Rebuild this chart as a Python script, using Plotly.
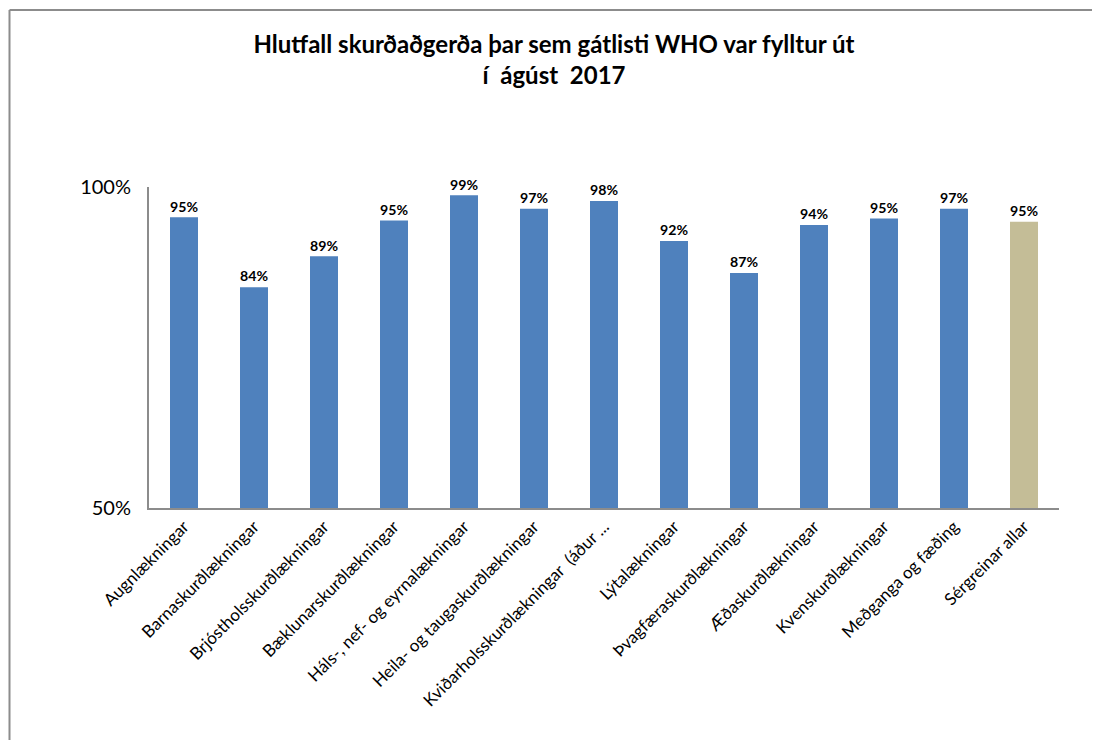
import plotly.graph_objects as go

categories = [
    "Augnlækningar", "Barnaskurðlækningar", "Brjóstholsskurðlækningar",
    "Bæklunarskurðlækningar", "Háls-, nef- og eyrnalækningar",
    "Heila- og taugaskurðlækningar", "Kviðarholsskurðlækningar  (áður ...",
    "Lýtalækningar", "Þvagfæraskurðlækningar", "Æðaskurðlækningar",
    "Kvenskurðlækningar", "Meðganga og fæðing", "Sérgreinar allar",
]
values = [0.953, 0.844, 0.892, 0.948, 0.987, 0.966, 0.978,
          0.916, 0.866, 0.941, 0.951, 0.966, 0.946]
colors = ["#4F81BD"] * 12 + ["#C4BD97"]
y_ticks = [0.5, 1.0]
y_tick_labels = ["50%", "100%"]

FONT = "Lato"
OFF = 8  # page body margin
W, H = 1100 - OFF, 740 - OFF

fig = go.Figure(go.Bar(
    x=categories, y=values,
    marker=dict(color=colors, line=dict(width=0)),
    texttemplate="%{y:.0%}", textposition="outside",
    textfont=dict(family=FONT, size=16, color="#000000", weight="bold"),
    cliponaxis=False,
))

L, T = 149 - OFF, 187 - OFF
R = W - (1059 - OFF)
B = H - (508 - OFF)
pw, ph = W - L - R, H - T - B

def px(x):
    return (x - OFF - L) / pw

def py(y):
    return (H - B - (y - OFF)) / ph

fig.update_layout(
    width=W, height=H,
    margin=dict(l=L, r=R, t=T, b=B),
    paper_bgcolor="white", plot_bgcolor="white",
    bargap=0.6,
    showlegend=False,
    title=dict(
        text="<b>Hlutfall skurðaðgerða þar sem gátlisti WHO var fylltur út<br>í  ágúst  2017</b>",
        x=0.5, xanchor="center", y=1 - (53 - OFF) / H, yanchor="middle",
        font=dict(family=FONT, size=24, color="#000000"),
    ),
    font=dict(family=FONT, color="#000000"),
    shapes=[
        dict(type="line", xref="paper", yref="paper",
             x0=px(9.5), x1=px(9.5), y0=py(760), y1=py(10),
             line=dict(color="#8C8C8C", width=2)),
        dict(type="line", xref="paper", yref="paper",
             x0=px(9.5), x1=px(1120), y0=py(10), y1=py(10),
             line=dict(color="#8C8C8C", width=2)),
    ],
)
fig.update_xaxes(
    showline=True, linecolor="#8C8C8C", linewidth=2,
    tickangle=-45, tickfont=dict(family=FONT, size=17, color="#000000"),
    ticks="",
)
fig.update_yaxes(
    range=[0.5, 1.0], tickvals=y_ticks, ticktext=y_tick_labels,
    showline=True, linecolor="#8C8C8C", linewidth=2,
    showgrid=True, gridcolor="#8C8C8C", gridwidth=1.5,
    zeroline=False, ticks="",
    tickfont=dict(family=FONT, size=20, color="#000000"),
    ticklabelstandoff=12,
)

fig.write_html("out.html")
